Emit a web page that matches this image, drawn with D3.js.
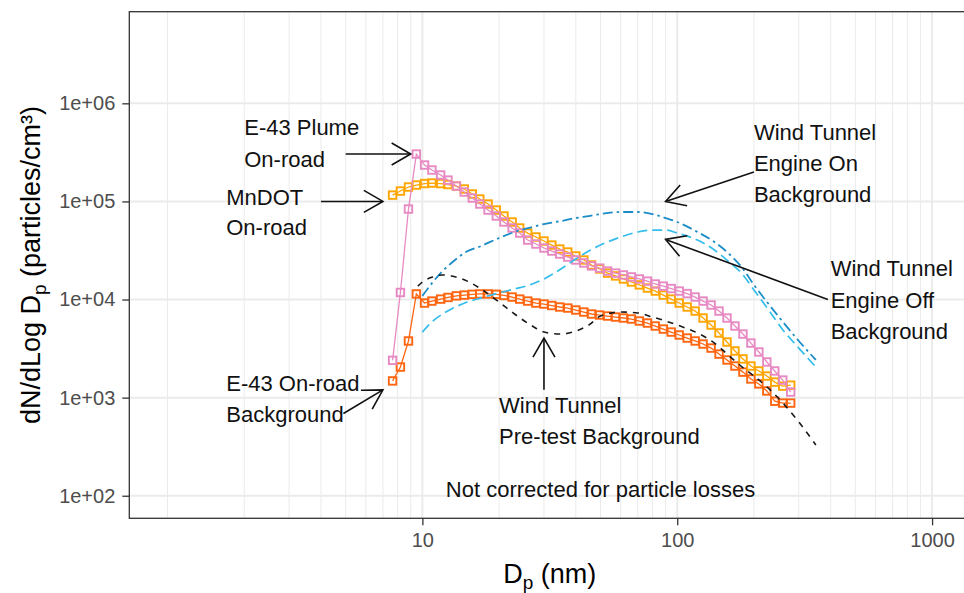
<!DOCTYPE html>
<html><head><meta charset="utf-8">
<script src="https://cdn.jsdelivr.net/npm/d3@7"></script>
<style>
body{margin:0;background:#fff}
svg text{font-family:"Liberation Sans",Arial,Helvetica,sans-serif}
</style>
</head><body>
<svg id="c" width="964" height="593"></svg>
<script>
// ---------------- data ----------------
const binDiameters = [7.64,8.20,8.82,9.47,10.2,10.9,11.8,12.6,13.6,14.6,15.7,16.8,18.1,19.5,20.9,22.5,24.1,25.9,27.9,30.0,32.2,34.6,37.2,40.0,43.0,46.1,49.6,53.3,57.3,61.5,66.1,71.0,76.4,82.0,88.2,94.7,101.8,109.4,117.6,126.3,135.8,145.9,156.8,168.5,181.1,194.6,209.1,224.7,241.4,259.5,278.8];
const e43Plume = [2400,11800,83600,304000,235000,209000,186000,165000,143500,124700,108300,94100,81700,71000,61700,53600,47600,40400,36800,33500,31200,29100,27100,25300,23600,22000,20900,19500,18600,17800,17000,16200,15400,14400,13700,12950,12200,11500,10600,9650,8790,7630,6480,5370,4450,3600,2920,2310,1870,1510,1140];
const mndotOnRoad = [116000,127600,140200,147000,152200,154000,152200,148700,143500,133800,119000,105800,94100,81700,71000,61700,53600,47600,43400,39500,35900,32700,30500,27800,25300,22500,20500,18600,17400,16200,15100,14100,13100,12200,11100,10100,9210,8390,7630,6480,5500,4560,3690,2990,2480,2100,1870,1660,1440,1310,1340];
const e43Background = [1480,2050,3780,11400,9210,9650,10100,10500,10900,11100,11300,11400,11400,11300,11000,10600,10100,9650,9210,9000,8690,8390,8190,7820,7460,7120,6950,6790,6630,6480,6330,6040,5760,5370,5000,4660,4350,4050,3780,3520,3200,2780,2420,2100,1820,1550,1380,1170,920,880,880];

const lineDiameters = [9.6,10,11,12,13,15,17,20,23,27,30,35,40,45,50,60,70,80,90,100,120,140,160,180,200,230,260,300,350];
const tunnelPretest = [13700,15100,17000,17800,17400,15400,12800,9430,7120,5370,4660,4450,4770,5500,6790,7460,7290,6630,6040,5500,4560,3600,2660,2050,1660,1220,880,564,329];
const tunnelEngineOn = [null,10900,15100,19500,23600,31000,35100,42400,48800,54800,58800,63100,67700,71000,74400,78000,78000,74400,67700,61700,48800,38600,29100,21000,14100,8790,5900,3780,2420];
const tunnelEngineOff = [null,4660,6040,7120,8000,9430,10400,11700,12800,14400,16200,20500,25900,31200,35900,43400,48800,51100,51100,47600,40400,32000,24100,18200,12500,7630,4890,3200,2050];

const xTicks = [10,100,1000];
const xTickLabels = ["10","100","1000"];
const yTicks = [1e2,1e3,1e4,1e5,1e6];
const yTickLabels = ["1e+02","1e+03","1e+04","1e+05","1e+06"];

// ---------------- layout ----------------
const svg = d3.select('#c');
const W = 964, H = 593;
const P = {l:129.3, r:970.3, t:11.7, b:518.3};
const FONT = '"Liberation Sans",Arial,Helvetica,sans-serif';

const x = d3.scaleLog().domain([Math.pow(10,-0.15), Math.pow(10,3.15)]).range([P.l, P.r]);
const y = d3.scaleLog().domain([Math.pow(10,1.77), Math.pow(10,6.934)]).range([P.b, P.t]);

svg.append('rect').attr('width',W).attr('height',H).attr('fill','#fff');
svg.append('defs').append('clipPath').attr('id','clip')
  .append('rect').attr('x',P.l).attr('y',P.t).attr('width',P.r-P.l).attr('height',P.b-P.t);

// grid
const grid = svg.append('g').attr('clip-path','url(#clip)');
const xMinor = [];
[1,10,100].forEach(dec => { for (let k=1;k<=9;k++){ const v=k*dec; if(!xTicks.includes(v)) xMinor.push(v);} });
grid.selectAll('line.xm').data(xMinor).join('line')
  .attr('x1',d=>x(d)).attr('x2',d=>x(d)).attr('y1',P.t).attr('y2',P.b)
  .attr('stroke','#ebebeb').attr('stroke-width',1);
grid.selectAll('line.xM').data(xTicks).join('line')
  .attr('x1',d=>x(d)).attr('x2',d=>x(d)).attr('y1',P.t).attr('y2',P.b)
  .attr('stroke','#ebebeb').attr('stroke-width',2);
grid.selectAll('line.yM').data(yTicks).join('line')
  .attr('y1',d=>y(d)).attr('y2',d=>y(d)).attr('x1',P.l).attr('x2',P.r)
  .attr('stroke','#ebebeb').attr('stroke-width',2);

// data
const plot = svg.append('g').attr('clip-path','url(#clip)');
const squareSeries = [
  {vals:e43Background, color:'#ff6611'},
  {vals:mndotOnRoad, color:'#ffa500'},
  {vals:e43Plume, color:'#e78ac3'}
];
squareSeries.forEach(s => {
  const pts = binDiameters.map((d,i)=>({x:d, y:s.vals[i]}));
  plot.append('path').datum(pts)
    .attr('d', d3.line().x(d=>x(d.x)).y(d=>y(d.y)))
    .attr('fill','none').attr('stroke',s.color).attr('stroke-width',1.3);
  const sz = 7.5;
  plot.append('g').selectAll('rect').data(pts).join('rect')
    .attr('x',d=>x(d.x)-sz/2).attr('y',d=>y(d.y)-sz/2)
    .attr('width',sz).attr('height',sz)
    .attr('fill','none').attr('stroke',s.color).attr('stroke-width',1.9);
});

const lineSeries = [
  {vals:tunnelEngineOff, color:'#35bdeb', dash:'10,5', w:1.7},
  {vals:tunnelEngineOn, color:'#1b8cc6', dash:'10,4,2.5,4', w:1.8},
  {vals:tunnelPretest, color:'#1a1a1a', dash:'6,6', w:1.6}
];
lineSeries.forEach(s => {
  const pts = lineDiameters.map((d,i)=>({x:d, y:s.vals[i]}));
  plot.append('path').datum(pts)
    .attr('d', d3.line().defined(d=>d.y!=null).curve(d3.curveMonotoneX).x(d=>x(d.x)).y(d=>y(d.y)))
    .attr('fill','none').attr('stroke',s.color).attr('stroke-width',s.w)
    .attr('stroke-dasharray',s.dash);
});

// annotations (data coordinates)
const ann = svg.append('g');
const texts = [
  {t:'E-43 Plume', x:2.0, y:475000},
  {t:'On-road', x:2.0, y:224000},
  {t:'MnDOT', x:1.70, y:92000},
  {t:'On-road', x:1.70, y:45000},
  {t:'Wind Tunnel', x:200, y:420000},
  {t:'Engine On', x:200, y:204000},
  {t:'Background', x:200, y:98600},
  {t:'Wind Tunnel', x:400, y:17400},
  {t:'Engine Off', x:400, y:8190},
  {t:'Background', x:400, y:3960},
  {t:'E-43 On-road', x:1.70, y:1170},
  {t:'Background', x:1.70, y:564},
  {t:'Wind Tunnel', x:20, y:697},
  {t:'Pre-test Background', x:20, y:337},
  {t:'Not corrected for particle losses', x:50, y:97, anchor:'middle'}
];
ann.selectAll('text').data(texts).join('text')
  .attr('x',d=>x(d.x)).attr('y',d=>y(d.y))
  .attr('text-anchor',d=>d.anchor||'start')
  .attr('font-size',22).attr('fill','#111').text(d=>d.t);

const arrows = [
  {x1:5, y1:3.04e5, x2:9.0, y2:3.04e5},
  {x1:4, y1:1e5, x2:7, y2:1e5},
  {x1:200, y1:2e5, x2:90, y2:1e5},
  {x1:390, y1:1e4, x2:90, y2:4.1e4},
  {x1:4.9, y1:690, x2:7, y2:1200},
  {x1:30, y1:1200, x2:30, y2:4050}
];
arrows.forEach(a => {
  const X1=x(a.x1), Y1=y(a.y1), X2=x(a.x2), Y2=y(a.y2);
  ann.append('line').attr('x1',X1).attr('y1',Y1).attr('x2',X2).attr('y2',Y2)
    .attr('stroke','#111').attr('stroke-width',1.6);
  const ang = Math.atan2(Y2-Y1, X2-X1), L=22, h=Math.PI/6;
  const head = [[X2-L*Math.cos(ang-h), Y2-L*Math.sin(ang-h)],[X2,Y2],[X2-L*Math.cos(ang+h), Y2-L*Math.sin(ang+h)]];
  ann.append('path').attr('d', d3.line()(head)).attr('fill','none')
    .attr('stroke','#111').attr('stroke-width',1.6).attr('stroke-linejoin','miter');
});

// panel border
svg.append('rect').attr('x',P.l).attr('y',P.t).attr('width',P.r-P.l).attr('height',P.b-P.t)
  .attr('fill','none').attr('stroke','#333').attr('stroke-width',1.3);

// axes
const gx = svg.append('g').attr('transform',`translate(0,${P.b})`)
  .call(d3.axisBottom(x).tickValues(xTicks).tickFormat((d,i)=>xTickLabels[i]).tickSize(7).tickPadding(8));
gx.select('.domain').remove();
gx.attr('font-family',FONT).attr('font-size',20);
gx.selectAll('line').attr('stroke','#333').attr('stroke-width',1.3);
gx.selectAll('text').attr('fill','#4d4d4d');

const gy = svg.append('g').attr('transform',`translate(${P.l},0)`)
  .call(d3.axisLeft(y).tickValues(yTicks).tickFormat((d,i)=>yTickLabels[i]).tickSize(7).tickPadding(7));
gy.select('.domain').remove();
gy.attr('font-family',FONT).attr('font-size',20);
gy.selectAll('line').attr('stroke','#333').attr('stroke-width',1.3);
gy.selectAll('text').attr('fill','#4d4d4d');

// axis titles
const xt = svg.append('text').attr('x',(P.l+P.r)/2).attr('y',583).attr('text-anchor','middle')
  .attr('font-size',27).attr('fill','#000');
xt.append('tspan').text('D');
xt.append('tspan').attr('font-size',19).attr('dy',6).text('p');
xt.append('tspan').attr('dy',-6).text(' (nm)');

const yt = svg.append('text').attr('transform',`translate(40,${(P.t+P.b)/2}) rotate(-90)`)
  .attr('text-anchor','middle').attr('font-size',27).attr('fill','#000');
yt.append('tspan').text('dN/dLog D');
yt.append('tspan').attr('font-size',19).attr('dy',6).text('p');
yt.append('tspan').attr('dy',-6).text(' (particles/cm³)');
</script>
</body></html>
